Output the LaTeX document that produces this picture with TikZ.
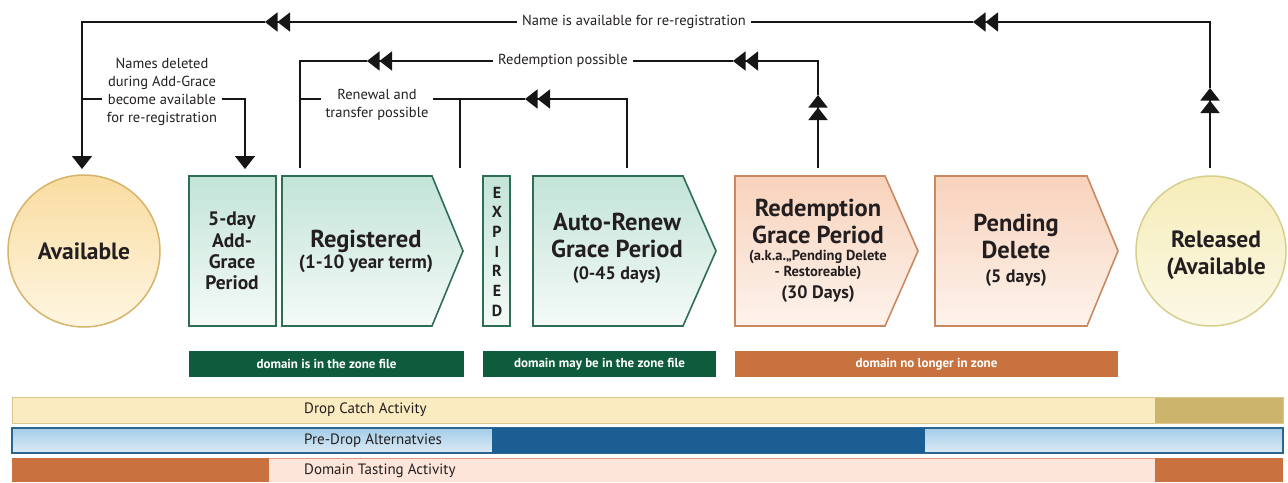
\documentclass[tikz,border=0pt]{standalone}
\usepackage{fontspec}
\setmainfont{PT Sans}
\usetikzlibrary{arrows.meta}
\newcommand\fsz[2]{\fontsize{#1}{#2}\selectfont}
\definecolor{lnk}{HTML}{161616}
\definecolor{txt}{HTML}{231F20}
\definecolor{grnB}{HTML}{2F6E55}
\definecolor{grnT}{HTML}{C3E4D8}
\definecolor{grnL}{HTML}{F4FAF7}
\definecolor{orgB}{HTML}{C98A63}
\definecolor{orgT}{HTML}{F8D2BB}
\definecolor{orgL}{HTML}{FDF3EC}
\definecolor{zgrn}{HTML}{0E5C3C}
\definecolor{zorg}{HTML}{C8723F}
\definecolor{avT}{HTML}{F9DCA0}
\definecolor{avL}{HTML}{FEF6E2}
\definecolor{avB}{HTML}{D8B36A}
\definecolor{relT}{HTML}{F6EDB9}
\definecolor{relL}{HTML}{FBF8E6}
\definecolor{relB}{HTML}{D6CF8E}
\definecolor{dcL}{HTML}{FBEBC0}
\definecolor{dcB}{HTML}{DCC68C}
\definecolor{dcD}{HTML}{CDB46C}
\definecolor{pdT}{HTML}{A3CDE9}
\definecolor{pdL}{HTML}{DDEBF5}
\definecolor{pdB}{HTML}{2C658F}
\definecolor{pdD}{HTML}{1A5E93}
\definecolor{dtL}{HTML}{FDE5DA}
\definecolor{dtD}{HTML}{C9713F}
\definecolor{dtB}{HTML}{E39A82}
\tikzset{
  dtip/.tip={Triangle[length=12.5pt,width=19pt] Triangle[length=12.5pt,width=19pt]},
  stip/.tip={Triangle[length=13pt,width=20pt]},
  conn/.style={draw=lnk, line width=1.6pt},
  lbl/.style={fill=white, inner xsep=5pt, inner ysep=1pt, font=\fsz{14.5}{18}, align=center, text=txt},
  grnbox/.style={draw=grnB, line width=1.6pt, top color=grnT, bottom color=grnL},
  orgbox/.style={draw=orgB, line width=1.6pt, top color=orgT, bottom color=orgL},
  hdtxt/.style={anchor=base, inner sep=0pt, font=\fsz{24.5}{28}\bfseries, text=txt},
  subtxt/.style={anchor=base, inner sep=0pt, font=\fsz{18}{21}\bfseries, text=txt},
  smtxt/.style={anchor=base, inner sep=0pt, font=\fsz{14.5}{16}\bfseries, text=txt},
  agtxt/.style={anchor=base, inner sep=0pt, font=\fsz{19.5}{22}\bfseries, text=txt},
  exptxt/.style={anchor=base, inner sep=0pt, font=\fsz{16}{18}\bfseries, text=txt},
  zbar/.style={minimum height=26pt, inner sep=0pt, text=white, font=\fsz{13}{15}\bfseries},
  bartxt/.style={anchor=west, inner sep=0pt, font=\fsz{15}{17}, text=txt},
}
\begin{document}
\begin{tikzpicture}[x=1pt,y=-1pt]
\useasboundingbox[fill=white] (0,0) rectangle (1288,482);

% ---------- state circles ----------
\node[circle, draw=avB, line width=1.5pt, top color=avT, bottom color=avL,
      minimum size=152pt, inner sep=0pt, font=\fsz{23.5}{26}\bfseries, text=txt] (avail) at (84,251) {Available};
\node[circle, draw=relB, line width=1.5pt, top color=relT, bottom color=relL,
      minimum size=150pt, inner sep=0pt] (rel) at (1211,251) {};
\node[hdtxt, font=\fsz{23.5}{26}\bfseries] (relA) at (1216,247) {Released};
\node[hdtxt, font=\fsz{23.5}{26}\bfseries] (relB) at (1216,274) {(Available};

% ---------- boxes ----------
\path[grnbox] (189,176) rectangle (276,326);
\path[grnbox] (282,176) -- (432,176) -- (463,251) -- (432,326) -- (282,326) -- cycle;
\path[grnbox] (483,176) rectangle (510,326);
\path[grnbox] (533,176) -- (683,176) -- (716,251) -- (683,326) -- (533,326) -- cycle;
\path[orgbox] (735,176) -- (885,176) -- (918,251) -- (885,326) -- (735,326) -- cycle;
\path[orgbox] (935,176) -- (1087,176) -- (1118,251) -- (1087,326) -- (935,326) -- cycle;

% add grace
\node[agtxt] (ag1) at (232,225) {5-day};
\node[agtxt] (ag2) at (232,247) {Add-};
\node[agtxt] (ag3) at (232,268) {Grace};
\node[agtxt] (ag4) at (232,289) {Period};
% registered
\node[hdtxt] (reg1) at (366,247) {Registered};
\node[subtxt, font=\fsz{19}{21}\bfseries] (reg2) at (366,268) {(1-10 year term)};
% expired
\foreach \l [count=\i from 0] in {E,X,P,I,R,E,D}
  \node[exptxt] (exp\i) at (497,{198+19.67*\i}) {\l};
% auto-renew
\node[hdtxt] (ar1) at (617,230) {Auto-Renew};
\node[hdtxt] (ar2) at (617,257) {Grace Period};
\node[subtxt] (ar3) at (617,279) {(0-45 days)};
% redemption
\node[hdtxt] (rd1) at (818,216) {Redemption};
\node[hdtxt] (rd2) at (818,243) {Grace Period};
\node[smtxt] (rd3) at (818,260) {(a.k.a.„Pending Delete};
\node[smtxt] (rd4) at (818,276) {- Restoreable)};
\node[subtxt] (rd5) at (818,298) {(30 Days)};
% pending delete
\node[hdtxt] (pd1) at (1016,231) {Pending};
\node[hdtxt] (pd2) at (1016,258) {Delete};
\node[subtxt] (pd3) at (1016,282) {(5 days)};

% ---------- connectors ----------
\coordinate (relTop) at (1210,168);
\coordinate (c1) at (1210,88);
\coordinate (c2) at (1210,22);
\coordinate (c3) at (973,22);
\coordinate (c4) at (265,22);
\coordinate (c5) at (82,22);
\coordinate (availTip) at (82,169);
\draw[conn,-dtip] (relTop) -- (c1);
\draw[conn,-dtip] (c1) -- (c2) -- (c3);
\draw[conn,-dtip] (c3) -- (c4);
\draw[conn,-stip] (c4) -- (c5) -- (availTip);

\coordinate (redTop) at (818,168);
\coordinate (b1) at (818,95);
\coordinate (b2) at (818,61);
\coordinate (b3) at (733,61);
\coordinate (b4) at (367,61);
\coordinate (b5) at (300,61);
\coordinate (regTop) at (300,168);
\draw[conn,-dtip] (redTop) -- (b1);
\draw[conn,-dtip] (b1) -- (b2) -- (b3);
\draw[conn,-dtip] (b3) -- (b4);
\draw[conn] (b4) -- (b5) -- (regTop);

\coordinate (arTop) at (627,168);
\coordinate (d1) at (627,99);
\coordinate (d2) at (525,99);
\coordinate (d3) at (300,99);
\coordinate (d4) at (460,99);
\coordinate (regEnd) at (460,168);
\draw[conn,-dtip] (arTop) -- (d1) -- (d2);
\draw[conn] (d2) -- (d3);
\draw[conn] (d4) -- (regEnd);

\coordinate (e1) at (82,99);
\coordinate (e2) at (245,99);
\coordinate (agTip) at (245,169);
\draw[conn,-stip] (e1) -- (e2) -- (agTip);

% ---------- connector labels ----------
\node[lbl] (lblTop) at (634,22) {Name is available for re-registration};
\node[lbl] (lblRed) at (563,61) {Redemption possible};
\node[lbl] (lblRen) at (377,105) {Renewal and\\transfer possible};
\node[lbl] (lblDel) at (162,92) {Names deleted\\during Add-Grace\\become available\\for re-registration};

% ---------- zone bars ----------
\node[zbar, fill=zgrn, minimum width=275pt] (z1) at (326.5,364) {domain is in the zone file};
\node[zbar, fill=zgrn, minimum width=233pt] (z2) at (599.5,364) {domain may be in the zone file};
\node[zbar, fill=zorg, minimum width=383pt] (z3) at (926.5,364) {domain no longer in zone};

% ---------- activity bars ----------
\path[fill=dcL, draw=dcB, line width=1pt] (12,397) rectangle (1283,423);
\fill[dcD] (1155,397.5) rectangle (1282.5,422.5);
\node[bartxt] (dc) at (304,410) {Drop Catch Activity};

\path[draw=pdB, line width=1.2pt, top color=pdT, bottom color=pdL] (12,428) rectangle (1283,453);
\fill[pdD] (492,428) rectangle (925,453);
\node[bartxt] (pdt) at (304,440.5) {Pre-Drop Alternatvies};

\fill[dtL] (12,458) rectangle (1283,482);
\draw[dtB, line width=1pt] (12,458.5) -- (1283,458.5);
\fill[dtD] (12,458) rectangle (269,482);
\fill[dtD] (1155,458) rectangle (1283,482);
\node[bartxt] (dtt) at (304,470.5) {Domain Tasting Activity};
\end{tikzpicture}
\end{document}
